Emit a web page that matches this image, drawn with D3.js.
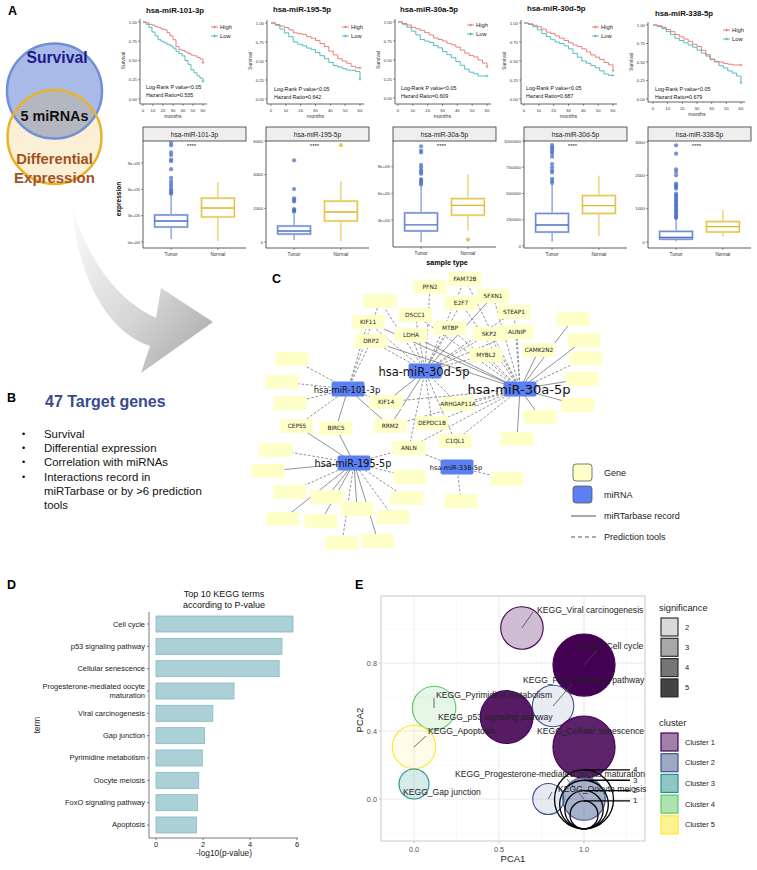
<!DOCTYPE html>
<html><head><meta charset="utf-8">
<script src="https://cdn.jsdelivr.net/npm/d3@7"></script>
<style>body{margin:0;background:#fff}svg{display:block}</style>
</head><body>
<svg id="c" width="757" height="870"></svg>
<script>
// ================= DATA =================
// A: survival
const survMirnas = ["hsa-miR-101-3p","hsa-miR-195-5p","hsa-miR-30a-5p","hsa-miR-30d-5p","hsa-miR-338-5p"];
const hazardRatios = ["0.535","0.642","0.609","0.687","0.679"];
const survMonths = [0,3,6,9,12,15,18,21,24,27,30,33,36,39,42,45,48,51,54,57,60];
const survHigh = [
 [1.00,0.99,0.97,0.96,0.94,0.93,0.91,0.90,0.86,0.82,0.77,0.68,0.64,0.63,0.61,0.59,0.57,0.56,0.54,0.52,0.47],
 [1.00,0.98,0.96,0.94,0.91,0.87,0.86,0.85,0.82,0.80,0.77,0.73,0.69,0.63,0.58,0.53,0.50,0.47,0.43,0.41,0.41],
 [1.00,0.98,0.96,0.93,0.91,0.89,0.86,0.83,0.79,0.77,0.75,0.72,0.70,0.67,0.63,0.59,0.56,0.54,0.50,0.46,0.41],
 [1.00,0.99,0.97,0.95,0.92,0.88,0.86,0.83,0.80,0.77,0.74,0.71,0.69,0.66,0.62,0.58,0.55,0.52,0.48,0.45,0.37],
 [1.00,0.99,0.97,0.94,0.91,0.87,0.84,0.81,0.78,0.74,0.71,0.66,0.60,0.53,0.51,0.50,0.48,0.47,0.46,0.46,0.46]];
const survLow = [
 [1.00,0.97,0.93,0.87,0.82,0.77,0.75,0.73,0.71,0.69,0.66,0.62,0.59,0.56,0.50,0.45,0.38,0.34,0.30,0.27,0.23],
 [1.00,0.97,0.92,0.87,0.82,0.75,0.72,0.70,0.67,0.65,0.61,0.57,0.53,0.48,0.44,0.42,0.40,0.38,0.38,0.36,0.26],
 [1.00,0.97,0.93,0.88,0.83,0.77,0.75,0.73,0.69,0.66,0.61,0.57,0.53,0.48,0.43,0.38,0.34,0.32,0.29,0.29,0.29],
 [1.00,0.98,0.95,0.91,0.86,0.82,0.78,0.75,0.73,0.70,0.66,0.60,0.55,0.50,0.47,0.44,0.41,0.37,0.33,0.31,0.31],
 [1.00,0.98,0.95,0.91,0.87,0.82,0.79,0.76,0.73,0.70,0.66,0.62,0.58,0.54,0.50,0.45,0.42,0.38,0.35,0.31,0.22]];
const survYTicks = [0,0.25,0.5,0.75,1];
const survXTicks = [0,10,20,30,40,50,60];

// A: boxplots
const sampleTypes = ["Tumor","Normal"];
const boxTumor = [
 {lo:3.4e4,q1:1.71e5,med:2.4e5,q3:3.08e5,hi:5.36e5},
 {lo:120,q1:475,med:650,q3:950,hi:1660},
 {lo:5e4,q1:1.77e5,med:2.45e5,q3:3.8e5,hi:6.9e5},
 {lo:4e4,q1:1.33e5,med:2.0e5,q3:3.1e5,hi:5.9e5},
 {lo:20,q1:85,med:140,q3:320,hi:680}];
const boxNormal = [
 {lo:1e4,q1:2.85e5,med:3.88e5,q3:5.0e5,hi:6.84e5},
 {lo:50,q1:1250,med:1780,q3:2430,hi:3600},
 {lo:1.85e5,q1:3.55e5,med:4.65e5,q3:5.4e5,hi:8.1e5},
 {lo:0.95e5,q1:3.1e5,med:3.85e5,q3:4.8e5,hi:6.7e5},
 {lo:160,q1:300,med:460,q3:610,hi:960}];
const tumorOut = [
 [1.13e6,1.10e6,1.02e6,0.99e6,0.94e6,0.92e6,0.83e6,0.73e6,0.69e6,0.66e6,0.63e6,0.60e6,0.58e6,0.56e6,0.55e6],
 [4850,3150,2600,2500,2400,1950,1900,1850,1800],
 [1.13e6,1.08e6,1.06e6,0.92e6,0.89e6,0.86e6,0.84e6,0.82e6,0.76e6,0.74e6,0.72e6,0.70e6],
 [9.6e5,9.4e5,9.2e5,9.0e5,8.8e5,8.5e5,7.8e5,7.5e5,7.2e5,7.0e5,6.4e5,6.2e5,6.0e5],
 [2900,2650,2180,2100,2000,1750,1700,1650,1600,1450,1400,1350,1300,1250,1200,1150,1100,1050,1000,950,900,850,800,750,720]];
const normalOut = [[],[5750],[0.8e5],[],[]];
const boxTicks = [[0,3e5,6e5,9e5],[0,2000,4000,6000],[3e5,6e5,9e5],[0,250000,500000,750000,1000000],[0,1000,2000,3000]];
const boxTickLabels = [["0e+00","3e+05","6e+05","9e+05"],["0","2000","4000","6000"],["3e+05","6e+05","9e+05"],["0","250000","500000","750000","1000000"],["0","1000","2000","3000"]];

// B
const targetCriteria = ["Survival","Differential expression","Correlation with miRNAs","Interactions record in","miRTarbase or by >6 prediction","tools"];

// C: network
const mirnaNodes = ["hsa-miR-30d-5p","hsa-miR-30a-5p","hsa-miR-101-3p","hsa-miR-195-5p","hsa-miR-338-5p"];
const geneNodes = ["PFN2","FAM72B","SFXN1","E2F7","STEAP1","DSCC1","KIF11","MTBP","LDHA","SKP2","AUNIP","DRP2","CAMK2N2","MYBL2","KIF14","ARHGAP11A","CEP55","BIRC5","RRM2","DEPDC1B","C1QL1","ANLN",
 "u1","u2","u3","u4","u5","u6","u7","u8","u9","u10","u11","u12","u13","u14","u15","u16","u17","u18","u19","u20","u21","u22","u23","u24","u25"];
// edges: [miRNA, gene, type] s = miRTarbase record, d = prediction tools
const netEdges = [
 ["hsa-miR-30d-5p","PFN2","d"],["hsa-miR-30d-5p","FAM72B","d"],["hsa-miR-30d-5p","E2F7","d"],["hsa-miR-30d-5p","DSCC1","d"],["hsa-miR-30d-5p","LDHA","d"],["hsa-miR-30d-5p","MTBP","d"],["hsa-miR-30d-5p","SKP2","d"],["hsa-miR-30d-5p","MYBL2","d"],["hsa-miR-30d-5p","KIF11","d"],["hsa-miR-30d-5p","DRP2","d"],["hsa-miR-30d-5p","SFXN1","s"],["hsa-miR-30d-5p","KIF14","s"],["hsa-miR-30d-5p","ARHGAP11A","d"],["hsa-miR-30d-5p","RRM2","s"],["hsa-miR-30d-5p","DEPDC1B","d"],["hsa-miR-30d-5p","C1QL1","d"],["hsa-miR-30d-5p","ANLN","d"],["hsa-miR-30d-5p","u1","d"],["hsa-miR-30d-5p","STEAP1","d"],["hsa-miR-30d-5p","AUNIP","d"],
 ["hsa-miR-30a-5p","u5","s"],["hsa-miR-30a-5p","u6","s"],["hsa-miR-30a-5p","u7","d"],["hsa-miR-30a-5p","u8","s"],["hsa-miR-30a-5p","u9","s"],["hsa-miR-30a-5p","u10","s"],["hsa-miR-30a-5p","u11","s"],["hsa-miR-30a-5p","CAMK2N2","s"],["hsa-miR-30a-5p","AUNIP","d"],["hsa-miR-30a-5p","STEAP1","d"],["hsa-miR-30a-5p","SKP2","d"],["hsa-miR-30a-5p","MYBL2","d"],["hsa-miR-30a-5p","SFXN1","d"],["hsa-miR-30a-5p","E2F7","d"],["hsa-miR-30a-5p","MTBP","d"],["hsa-miR-30a-5p","LDHA","s"],["hsa-miR-30a-5p","DSCC1","d"],["hsa-miR-30a-5p","KIF11","s"],["hsa-miR-30a-5p","KIF14","d"],["hsa-miR-30a-5p","ARHGAP11A","d"],["hsa-miR-30a-5p","DEPDC1B","d"],["hsa-miR-30a-5p","C1QL1","d"],["hsa-miR-30a-5p","RRM2","d"],["hsa-miR-30a-5p","ANLN","d"],["hsa-miR-30a-5p","FAM72B","d"],["hsa-miR-30a-5p","DRP2","s"],
 ["hsa-miR-101-3p","u2","d"],["hsa-miR-101-3p","u3","d"],["hsa-miR-101-3p","u4","d"],["hsa-miR-101-3p","KIF11","d"],["hsa-miR-101-3p","DRP2","d"],["hsa-miR-101-3p","CEP55","d"],["hsa-miR-101-3p","BIRC5","s"],["hsa-miR-101-3p","RRM2","s"],["hsa-miR-101-3p","KIF14","d"],["hsa-miR-101-3p","u1","d"],
 ["hsa-miR-195-5p","CEP55","s"],["hsa-miR-195-5p","BIRC5","s"],["hsa-miR-195-5p","u14","d"],["hsa-miR-195-5p","u15","s"],["hsa-miR-195-5p","u16","d"],["hsa-miR-195-5p","u17","s"],["hsa-miR-195-5p","u18","s"],["hsa-miR-195-5p","u19","s"],["hsa-miR-195-5p","u20","s"],["hsa-miR-195-5p","u21","d"],["hsa-miR-195-5p","u22","d"],["hsa-miR-195-5p","u23","s"],["hsa-miR-195-5p","u24","d"],["hsa-miR-195-5p","u25","d"],["hsa-miR-195-5p","ANLN","d"],
 ["hsa-miR-338-5p","ANLN","d"],["hsa-miR-338-5p","u12","d"],["hsa-miR-338-5p","u13","d"]];

// D
const keggTerms = ["Cell cycle","p53 signaling pathway","Cellular senescence","Progesterone-mediated oocyte maturation","Viral carcinogenesis","Gap junction","Pyrimidine metabolism","Oocyte meiosis","FoxO signaling pathway","Apoptosis"];
const keggValues = [5.83,5.36,5.24,3.32,2.42,2.07,1.97,1.82,1.77,1.72];
const keggTicks = [0,2,4,6];

// E
const eTerms = ["Viral carcinogenesis","Cell cycle","FoxO signaling pathway","Pyrimidine metabolism","p53 signaling pathway","Apoptosis","Cellular senescence","Progesterone-mediated oocyte maturation","Oocyte meiosis","Gap junction"];
const eX = [0.635,1.0,0.818,0.118,0.545,0.0,1.0,1.0,0.79,0.0];
const eY = [1.006,0.788,0.547,0.535,0.482,0.306,0.306,0.0,0.0,0.088];
const eSize = [2.4,4.3,2.3,2.5,3.4,2.5,4.3,2.4,1.3,1.2];
const eSig = [2.42,5.83,1.77,1.97,5.36,1.72,5.24,3.32,1.82,2.07];
const eCluster = [1,1,2,4,1,5,1,2,2,3];
const eSizeLegend = [1,2,3,4];
const eSigLegend = [2,3,4,5];
const eClusters = ["Cluster 1","Cluster 2","Cluster 3","Cluster 4","Cluster 5"];
const eXTicks = [0,0.5,1.0];
const eYTicks = [0,0.4,0.8];

// ================= LAYOUT / STYLE =================
const F = "'Liberation Sans', Arial, Helvetica, sans-serif";
const FD = "'DejaVu Sans', Verdana, sans-serif";
const svg = d3.select("#c");
const defs = svg.append("defs");
function txt(g,x,y,s,o){const t=g.append("text").attr("x",x).attr("y",y).text(s).attr("font-family",o&&o.ff||F).attr("font-size",o&&o.fs||8).attr("fill",o&&o.fill||"#000");
 if(o&&o.fw)t.attr("font-weight",o.fw); if(o&&o.anchor)t.attr("text-anchor",o.anchor); if(o&&o.base)t.attr("dominant-baseline",o.base); if(o&&o.rot!=null)t.attr("transform",`rotate(${o.rot},${x},${y})`); return t;}

// panel letters
[["A",8,15],["B",7,402],["C",272,283],["D",7,589],["E",355,589]].forEach(d=>txt(svg,d[1],d[2],d[0],{fs:12.5,fw:"bold"}));

// ---------- Arrow ----------
const ag = defs.append("linearGradient").attr("id","arrowGrad").attr("x1",0).attr("y1",0).attr("x2",1).attr("y2",1);
ag.append("stop").attr("offset",0).attr("stop-color","#fdfdfd");
ag.append("stop").attr("offset",0.55).attr("stop-color","#d6d6d6");
ag.append("stop").attr("offset",1).attr("stop-color","#a4a4a4");
svg.append("path").attr("d","M72,205 C78,280 108,332 150,346 L141,373 L213,322 L161,288 L156,318 C118,300 88,262 72,205 Z").attr("fill","url(#arrowGrad)");

// ---------- Venn ----------
const venn = svg.append("g");
const cB = {x:54.5,y:91,r:47.5}, cY = {x:54.5,y:137,r:47};
venn.append("circle").attr("cx",cB.x).attr("cy",cB.y).attr("r",cB.r).attr("fill","#a8bbe8");
venn.append("circle").attr("cx",cY.x).attr("cy",cY.y).attr("r",cY.r).attr("fill","#fbefd5");
defs.append("clipPath").attr("id","clipB").append("circle").attr("cx",cB.x).attr("cy",cB.y).attr("r",cB.r);
venn.append("circle").attr("cx",cY.x).attr("cy",cY.y).attr("r",cY.r).attr("fill","#b4b7bf").attr("clip-path","url(#clipB)");
venn.append("circle").attr("cx",cB.x).attr("cy",cB.y).attr("r",cB.r).attr("fill","none").attr("stroke","#6f8fd8").attr("stroke-width",2.5);
venn.append("circle").attr("cx",cY.x).attr("cy",cY.y).attr("r",cY.r).attr("fill","none").attr("stroke","#e6b32a").attr("stroke-width",2.5);
txt(venn,57,63,"Survival",{fs:15.7,fw:"bold",fill:"#1e1a8c",anchor:"middle"});
txt(venn,54.5,121,"5 miRNAs",{fs:14.4,fw:"bold",fill:"#111",anchor:"middle"});
txt(venn,54.5,164,"Differential",{fs:14.7,fw:"bold",fill:"#a2521e",anchor:"middle"});
txt(venn,54.5,183,"Expression",{fs:15,fw:"bold",fill:"#a2521e",anchor:"middle"});

// ---------- A: survival curves ----------
const survLayout = [
 {ax:140,x0:143,x1:203,yT:22,yB:99,xa:104,tx:146,ty:13,lx:211,ly:27,rx:146,ry:87},
 {ax:267,x0:271,x1:360,yT:23,yB:99,xa:104,tx:273,ty:12,lx:342,ly:27,rx:274,ry:89},
 {ax:395,x0:398,x1:487,yT:22,yB:98,xa:104,tx:400,ty:12,lx:467,ly:25,rx:401,ry:88},
 {ax:521,x0:524,x1:613,yT:23,yB:99,xa:104,tx:527,ty:11,lx:592,ly:27,rx:526,ry:88},
 {ax:648,x0:653,x1:741,yT:25,yB:99,xa:102,tx:655,ty:16,lx:723,ly:30,rx:655,ry:89}];
const cHigh = "#e8736c", cLow = "#3fb7b9";
survMirnas.forEach((name,i)=>{
 const L = survLayout[i], g = svg.append("g");
 const x = d3.scaleLinear().domain([0,60]).range([L.x0,L.x1]);
 const y = d3.scaleLinear().domain([0,1]).range([L.yB,L.yT]);
 g.append("line").attr("x1",L.ax).attr("x2",L.ax).attr("y1",L.yT-3).attr("y2",L.xa).attr("stroke","#222").attr("stroke-width",0.7);
 g.append("line").attr("x1",L.ax).attr("x2",L.x1+4).attr("y1",L.xa).attr("y2",L.xa).attr("stroke","#222").attr("stroke-width",0.7);
 survYTicks.forEach(v=>{g.append("line").attr("x1",L.ax-2).attr("x2",L.ax).attr("y1",y(v)).attr("y2",y(v)).attr("stroke","#222").attr("stroke-width",0.5);
   txt(g,L.ax-3,y(v),d3.format(".2f")(v),{fs:4.3,anchor:"end",base:"central",fill:"#333"});});
 survXTicks.forEach(v=>{g.append("line").attr("x1",x(v)).attr("x2",x(v)).attr("y1",L.xa).attr("y2",L.xa+2).attr("stroke","#222").attr("stroke-width",0.5);
   txt(g,x(v),L.xa+6,v,{fs:4.3,anchor:"middle",base:"central",fill:"#333"});});
 txt(g,L.ax-17,(L.yT+L.yB)/2,"Survival",{fs:5,anchor:"middle",base:"central",rot:-90,fill:"#333"});
 txt(g,(L.x0+L.x1)/2,L.xa+12,"months",{fs:5.3,anchor:"middle",base:"central",fill:"#333"});
 const line = d3.line().x((d,j)=>x(survMonths[j])).y(d=>y(d)).curve(d3.curveStepAfter);
 g.append("path").attr("d",line(survLow[i])).attr("fill","none").attr("stroke",cLow).attr("stroke-width",0.9);
 g.append("path").attr("d",line(survHigh[i])).attr("fill","none").attr("stroke",cHigh).attr("stroke-width",0.9);
 // censor marks at end
 [[survHigh[i],cHigh],[survLow[i],cLow]].forEach(([s,c])=>{const v=s[s.length-1];
   g.append("path").attr("d",`M${x(60)-1.5},${y(v)}h3M${x(60)},${y(v)-1.5}v3`).attr("stroke",c).attr("stroke-width",0.6);});
 txt(g,L.tx,L.ty,name,{fs:7.8,fw:"bold",fill:"#111"});
 [["High",cHigh,L.ly],["Low",cLow,L.ly+9]].forEach(([lab,c,yy])=>{
   g.append("line").attr("x1",L.lx).attr("x2",L.lx+7).attr("y1",yy).attr("y2",yy).attr("stroke",c).attr("stroke-width",0.9);
   g.append("path").attr("d",`M${L.lx+2},${yy}h3M${L.lx+3.5},${yy-1.5}v3`).attr("stroke",c).attr("stroke-width",0.7);
   txt(g,L.lx+9,yy,lab,{fs:5.8,base:"central",fill:"#222"});});
 txt(g,L.rx,L.ry,"Log-Rank P value<0.05",{fs:5.3,base:"central",fill:"#111"});
 txt(g,L.rx,L.ry+8,"Hazard Ratio="+hazardRatios[i],{fs:5.3,base:"central",fill:"#111"});
});

// ---------- A: boxplots ----------
const boxLayout = [
 {ax:143,zero:242,refV:9e5,refP:163,bot:248},
 {ax:266,zero:242,refV:6000,refP:141,bot:248},
 {ax:393,zero:246.7,refV:9e5,refP:166.7,bot:247},
 {ax:524,zero:246,refV:1e6,refP:141,bot:248},
 {ax:648,zero:242,refV:3000,refP:142,bot:248}];
const BW = 103, stripT = 127, stripB = 141;
const cTumor = "#4a70c6", cTumorL = "#a9bbe6", cNorm = "#dfb626", cNormL = "#f1df95";
survMirnas.forEach((name,i)=>{
 const L = boxLayout[i], g = svg.append("g");
 const y = d3.scaleLinear().domain([0,L.refV]).range([L.zero,L.refP]);
 const x = d3.scaleLinear().domain([0.4,2.6]).range([L.ax,L.ax+BW]);
 g.append("rect").attr("x",L.ax).attr("y",stripT).attr("width",BW).attr("height",stripB-stripT).attr("fill","#eeeeee").attr("stroke","#333").attr("stroke-width",0.8);
 txt(g,L.ax+BW/2,(stripT+stripB)/2+0.5,name,{fs:6.6,anchor:"middle",base:"central",fill:"#222"});
 g.append("line").attr("x1",L.ax).attr("x2",L.ax).attr("y1",stripB).attr("y2",L.bot).attr("stroke","#333").attr("stroke-width",0.8);
 g.append("line").attr("x1",L.ax).attr("x2",L.ax+BW).attr("y1",L.bot).attr("y2",L.bot).attr("stroke","#333").attr("stroke-width",0.8);
 boxTicks[i].forEach((v,k)=>{g.append("line").attr("x1",L.ax-2).attr("x2",L.ax).attr("y1",y(v)).attr("y2",y(v)).attr("stroke","#333").attr("stroke-width",0.5);
   txt(g,L.ax-3,y(v),boxTickLabels[i][k],{fs:4.4,anchor:"end",base:"central",fill:"#333"});});
 sampleTypes.forEach((s,k)=>{const cx=x(k+1);
   g.append("line").attr("x1",cx).attr("x2",cx).attr("y1",L.bot).attr("y2",L.bot+2).attr("stroke","#333").attr("stroke-width",0.5);
   txt(g,cx,L.bot+6,s,{fs:4.6,anchor:"middle",base:"central",fill:"#333"});
   const b = k===0?boxTumor[i]:boxNormal[i], out = k===0?tumorOut[i]:normalOut[i];
   const c = k===0?cTumor:cNorm, cl = k===0?cTumorL:cNormL;
   const hw = (x(1.35)-x(1))/1;
   g.append("line").attr("x1",cx).attr("x2",cx).attr("y1",y(b.hi)).attr("y2",y(b.q3)).attr("stroke",c).attr("stroke-width",0.9);
   g.append("line").attr("x1",cx).attr("x2",cx).attr("y1",y(b.q1)).attr("y2",y(b.lo)).attr("stroke",c).attr("stroke-width",0.9);
   g.append("rect").attr("x",cx-hw).attr("width",2*hw).attr("y",y(b.q3)).attr("height",y(b.q1)-y(b.q3)).attr("fill","#fff").attr("stroke",cl).attr("stroke-width",2.2);
   g.append("rect").attr("x",cx-hw).attr("width",2*hw).attr("y",y(b.q3)).attr("height",y(b.q1)-y(b.q3)).attr("fill","none").attr("stroke",c).attr("stroke-width",0.6);
   g.append("line").attr("x1",cx-hw).attr("x2",cx+hw).attr("y1",y(b.med)).attr("y2",y(b.med)).attr("stroke",c).attr("stroke-width",1.4);
   out.forEach(v=>g.append("circle").attr("cx",cx).attr("cy",y(v)).attr("r",2.1).attr("fill",c).attr("fill-opacity",0.75));
 });
 txt(g,x(1.5)-3,146,"****",{fs:6,anchor:"middle",base:"central",fill:"#222"});
});
txt(svg,118,199,"expression",{fs:6.5,fw:"bold",anchor:"middle",base:"central",rot:-90});
txt(svg,447,262,"sample type",{fs:7.2,fw:"bold",anchor:"middle",base:"central"});

// ---------- B ----------
txt(svg,45,407,"47 Target genes",{fs:16,fw:"bold",fill:"#3a4a90"});
const bY = [434,448,462,477,491,505];
targetCriteria.forEach((t,i)=>{ if(i<4) txt(svg,22,bY[i],"•",{fs:9,base:"central"}); txt(svg,44,bY[i],t,{fs:11.4,base:"central",fill:"#111"});});

// ---------- C: network ----------
const netX = d3.scaleLinear().domain([0,350]).range([250,600]);
const netY = d3.scaleLinear().domain([0,300]).range([270,570]);
const mirnaLayout = {"hsa-miR-30d-5p":[175,101,11.5],"hsa-miR-30a-5p":[270,119,13],"hsa-miR-101-3p":[98,119,8.4],"hsa-miR-195-5p":[104,193,9.7],"hsa-miR-338-5p":[207,197,6.6]};
const geneLayout = {PFN2:[180,17],FAM72B:[215,9],SFXN1:[243,26],E2F7:[211,33],STEAP1:[264,42],DSCC1:[165,45],KIF11:[118,52],MTBP:[200,58],LDHA:[161,65],SKP2:[239,64],AUNIP:[267,62],DRP2:[121,71],CAMK2N2:[289,80],MYBL2:[236,85],KIF14:[136,132],ARHGAP11A:[208,134],CEP55:[47,156],BIRC5:[86,158],RRM2:[140,156],DEPDC1B:[182,153],C1QL1:[205,171],ANLN:[159,178],
 u1:[130,31],u2:[42,89],u3:[32,112],u4:[40,133],u5:[323,49],u6:[334,70],u7:[336,88],u8:[332,109],u9:[328,135],u10:[290,147],u11:[267,169],u12:[257,209],u13:[211,231],u14:[26,180],u15:[18,201],u16:[40,222],u17:[77,227],u18:[33,249],u19:[71,251],u20:[107,239],u21:[143,247],u22:[92,273],u23:[128,271],u24:[160,207],u25:[157,228]};
const net = svg.append("g");
const pos = n => mirnaLayout[n] || geneLayout[n];
netEdges.forEach(([m,gname,t])=>{const a=pos(m), b=pos(gname);
 net.append("line").attr("x1",netX(a[0])).attr("y1",netY(a[1])).attr("x2",netX(b[0])).attr("y2",netY(b[1]))
  .attr("stroke","#6e6e6e").attr("stroke-width",0.75).attr("stroke-dasharray",t==="d"?"2.6,1.8":null);});
geneNodes.forEach(n=>{const p=geneLayout[n];
 net.append("rect").attr("x",netX(p[0])-16.5).attr("y",netY(p[1])-7).attr("width",33).attr("height",14).attr("rx",1).attr("fill","#ffffc9");
 if(!n.startsWith("u")) txt(net,netX(p[0]),netY(p[1])+0.3,n,{ff:FD,fs:5.8,anchor:"middle",base:"central",fill:"#222"});});
mirnaNodes.forEach(n=>{const p=mirnaLayout[n];
 net.append("rect").attr("x",netX(p[0])-16.5).attr("y",netY(p[1])-7.5).attr("width",33).attr("height",15).attr("rx",2).attr("fill","#5a80f2");});
mirnaNodes.forEach(n=>{const p=mirnaLayout[n];
 txt(net,netX(p[0])-1,netY(p[1])+0.5,n,{ff:FD,fs:p[2],anchor:"middle",base:"central",fill:"#111"});});
// legend
const lg = svg.append("g");
lg.append("rect").attr("x",573).attr("y",464).attr("width",19).attr("height",17).attr("rx",3).attr("fill","#ffffc9").attr("stroke","#555").attr("stroke-width",0.8);
lg.append("rect").attr("x",573).attr("y",486).attr("width",19).attr("height",17).attr("rx",3).attr("fill","#5a80f2").attr("stroke","#555").attr("stroke-width",0.8);
lg.append("line").attr("x1",571).attr("x2",596).attr("y1",516).attr("y2",516).attr("stroke","#555").attr("stroke-width",1);
lg.append("line").attr("x1",571).attr("x2",596).attr("y1",537).attr("y2",537).attr("stroke","#555").attr("stroke-width",1).attr("stroke-dasharray","4,3");
[["Gene",473],["miRNA",495],["miRTarbase record",516],["Prediction tools",537]].forEach(d=>txt(lg,604,d[1],d[0],{fs:9,base:"central",fill:"#222"}));

// ---------- D: bar chart ----------
const dG = svg.append("g");
const dx = d3.scaleLinear().domain([0,6]).range([156,297]);
const dy = d3.scaleBand().domain(keggTerms).range([612,837]).paddingInner(0.283).paddingOuter(0.18);
keggTerms.forEach((t,i)=>{
 dG.append("rect").attr("x",dx(0)).attr("y",dy(t)).attr("width",dx(keggValues[i])-dx(0)).attr("height",dy.bandwidth()).attr("fill","#abd0d5").attr("stroke","#86bac1").attr("stroke-width",0.8);
 const cy = dy(t)+dy.bandwidth()/2;
 dG.append("line").attr("x1",147).attr("x2",149).attr("y1",cy).attr("y2",cy).attr("stroke","#333").attr("stroke-width",0.6);
 if(t.startsWith("Progesterone")){
   txt(dG,145,cy-4.5,"Progesterone-mediated oocyte",{fs:7.5,anchor:"end",base:"central",fill:"#222"});
   txt(dG,145,cy+4.5,"maturation",{fs:7.5,anchor:"end",base:"central",fill:"#222"});
 } else txt(dG,145,cy,t,{fs:7.5,anchor:"end",base:"central",fill:"#222"});
});
dG.append("line").attr("x1",149).attr("x2",149).attr("y1",612).attr("y2",838).attr("stroke","#444").attr("stroke-width",0.7);
dG.append("line").attr("x1",149).attr("x2",298).attr("y1",838).attr("y2",838).attr("stroke","#444").attr("stroke-width",0.7);
keggTicks.forEach(v=>{dG.append("line").attr("x1",dx(v)).attr("x2",dx(v)).attr("y1",838).attr("y2",840).attr("stroke","#333").attr("stroke-width",0.6);
 txt(dG,dx(v),844.5,v,{fs:7.5,anchor:"middle",base:"central",fill:"#222"});});
txt(dG,224,853,"-log10(p-value)",{fs:8.3,anchor:"middle",base:"central",fill:"#222"});
txt(dG,37,725,"term",{fs:8.3,anchor:"middle",base:"central",rot:-90,fill:"#222"});
txt(dG,224,594,"Top 10 KEGG terms",{fs:9,anchor:"middle",base:"central",fill:"#111"});
txt(dG,224,604.5,"according to P-value",{fs:9,anchor:"middle",base:"central",fill:"#111"});

// ---------- E: bubble plot ----------
const eG = svg.append("g");
const ex = d3.scaleLinear().domain([0,1]).range([414,584]);
const ey = d3.scaleLinear().domain([0,1]).range([799,629]);
const eL = 381, eR = 645, eTp = 596, eBt = 841;
const rScale = d3.scaleLinear().domain([1,4]).range([14,29.5]);
const aScale = d3.scaleLinear().domain([d3.min(eSig),d3.max(eSig)]).range([0.1,1]);
const clusterCol = ["#440154","#3B528B","#21908C","#5DC863","#FDE725"];
defs.append("clipPath").attr("id","clipE").append("rect").attr("x",eL).attr("y",eTp).attr("width",eR-eL).attr("height",eBt-eTp);
eG.append("rect").attr("x",eL).attr("y",eTp).attr("width",eR-eL).attr("height",eBt-eTp).attr("fill","#fff");
[-0.25,0.25,0.75,1.25].forEach(v=>eG.append("line").attr("x1",ex(v)).attr("x2",ex(v)).attr("y1",eTp).attr("y2",eBt).attr("stroke","#f2f2f2").attr("stroke-width",0.5).attr("clip-path","url(#clipE)"));
[-0.2,0.2,0.6,1.0].forEach(v=>eG.append("line").attr("y1",ey(v)).attr("y2",ey(v)).attr("x1",eL).attr("x2",eR).attr("stroke","#f2f2f2").attr("stroke-width",0.5).attr("clip-path","url(#clipE)"));
eXTicks.forEach(v=>{eG.append("line").attr("x1",ex(v)).attr("x2",ex(v)).attr("y1",eTp).attr("y2",eBt).attr("stroke","#e4e4e4").attr("stroke-width",0.8);
 eG.append("line").attr("x1",ex(v)).attr("x2",ex(v)).attr("y1",eBt).attr("y2",eBt+2.5).attr("stroke","#b3b3b3").attr("stroke-width",0.7);
 txt(eG,ex(v),849,d3.format(".1f")(v),{fs:7.3,anchor:"middle",base:"central",fill:"#555"});});
eYTicks.forEach(v=>{eG.append("line").attr("y1",ey(v)).attr("y2",ey(v)).attr("x1",eL).attr("x2",eR).attr("stroke","#e4e4e4").attr("stroke-width",0.8);
 eG.append("line").attr("y1",ey(v)).attr("y2",ey(v)).attr("x1",eL-2.5).attr("x2",eL).attr("stroke","#b3b3b3").attr("stroke-width",0.7);
 txt(eG,eL-4,ey(v),d3.format(".1f")(v),{fs:7.3,anchor:"end",base:"central",fill:"#555"});});
eG.append("rect").attr("x",eL).attr("y",eTp).attr("width",eR-eL).attr("height",eBt-eTp).attr("fill","none").attr("stroke","#c4c4c4").attr("stroke-width",0.9);
const eBub = eG.append("g").attr("clip-path","url(#clipE)");
eTerms.forEach((t,i)=>{const c=clusterCol[eCluster[i]-1];
 eBub.append("circle").attr("cx",ex(eX[i])).attr("cy",ey(eY[i])).attr("r",rScale(eSize[i])).attr("fill",c).attr("fill-opacity",aScale(eSig[i])).attr("stroke",c).attr("stroke-width",1.1);});
// size guide circles
const sBottom = ey(-0.176);
eSizeLegend.forEach(v=>{const r=rScale(v);
 eBub.append("circle").attr("cx",ex(1)).attr("cy",sBottom-r).attr("r",r).attr("fill","none").attr("stroke","#000").attr("stroke-width",1.3);
 eBub.append("line").attr("x1",ex(1)).attr("x2",630).attr("y1",sBottom-2*r).attr("y2",sBottom-2*r).attr("stroke","#000").attr("stroke-width",1.3);
 txt(eG,633,sBottom-2*r,v,{fs:8,base:"central",fill:"#222"});});
// labels (ggrepel-like placement)
const eLabelLayout = [[537,610,533,612],[577,646,597,650],[523,680,572,684],[436,695,434,698],[438,717,null,null],[428,731,426,736],[537,731,587,736],[455,774,567,779],[558,789,552,792],[403,792,null,null]];
eTerms.forEach((t,i)=>{const L=eLabelLayout[i];
 if(L[2]!=null) eG.append("line").attr("x1",ex(eX[i])).attr("y1",ey(eY[i])).attr("x2",L[2]).attr("y2",L[3]).attr("stroke","#444").attr("stroke-width",0.8);
 txt(eG,L[0],L[1],"KEGG_"+t,{fs:8.6,base:"central",fill:"#222"});});
txt(eG,513,858,"PCA1",{fs:9.5,anchor:"middle",base:"central",fill:"#222"});
txt(eG,359,720,"PCA2",{fs:9.5,anchor:"middle",base:"central",rot:-90,fill:"#222"});
// legends
txt(eG,659,608,"significance",{fs:9.3,base:"central",fill:"#222"});
eSigLegend.forEach((v,k)=>{const yy=617+k*20.3;
 eG.append("rect").attr("x",660).attr("y",yy).attr("width",19).attr("height",20).attr("fill","#fff");
 eG.append("rect").attr("x",661).attr("y",yy+1).attr("width",17).attr("height",18).attr("fill","#000").attr("fill-opacity",aScale(v)*0.9).attr("stroke","#222").attr("stroke-width",1.1);
 txt(eG,685,yy+10,v,{fs:7.5,base:"central",fill:"#222"});});
txt(eG,659,723,"cluster",{fs:9.3,base:"central",fill:"#222"});
eClusters.forEach((cName,k)=>{const yy=732+k*20.7;
 eG.append("rect").attr("x",661).attr("y",yy+1).attr("width",17).attr("height",18).attr("fill",clusterCol[k]).attr("fill-opacity",0.5).attr("stroke",clusterCol[k]).attr("stroke-width",1.2);
 txt(eG,685,yy+10,cName,{fs:7.5,base:"central",fill:"#222"});});
</script>
</body></html>
